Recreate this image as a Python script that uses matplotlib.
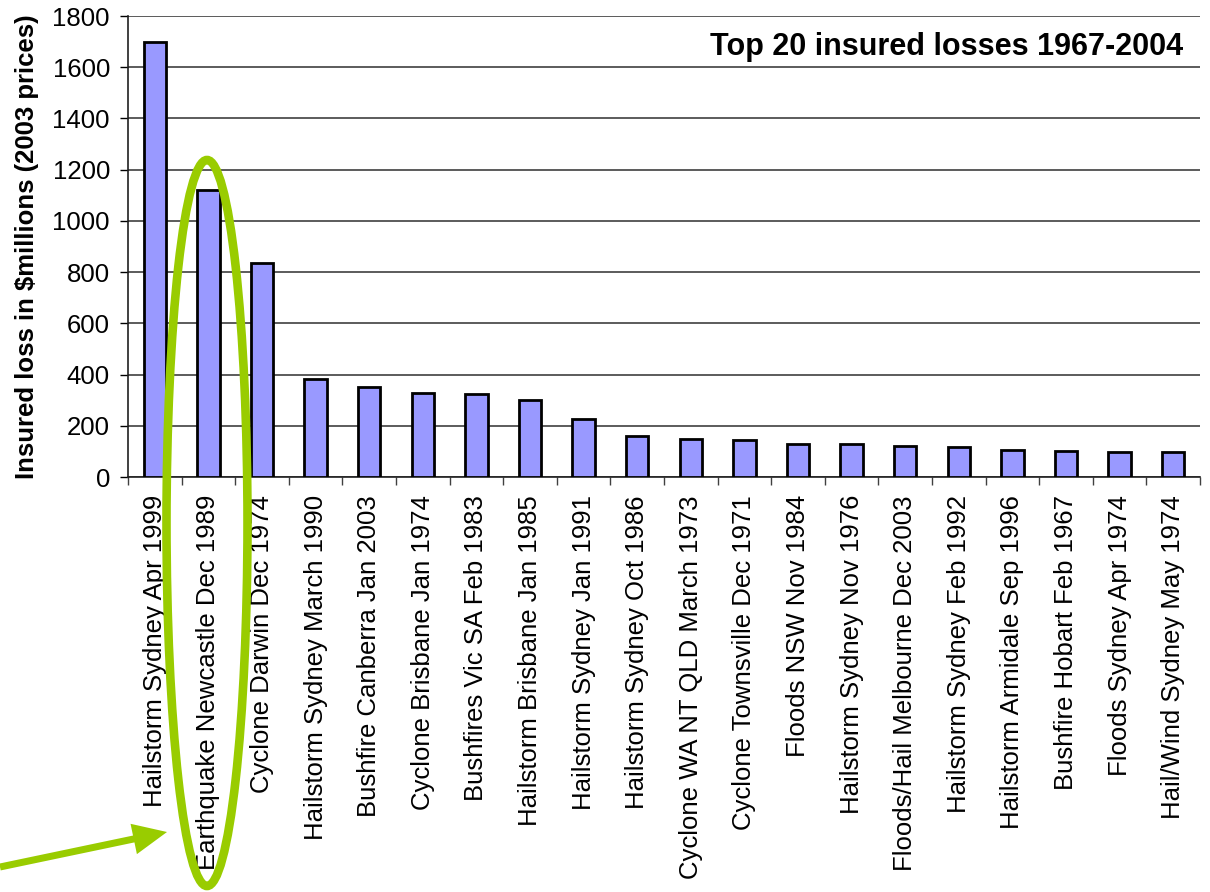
import matplotlib
matplotlib.use("Agg")
import matplotlib.pyplot as plt
from matplotlib.patches import Ellipse, FancyArrow

plt.rcParams['font.family'] = ['Liberation Sans', 'DejaVu Sans']

# Top 20 insured losses, $millions at 2003 prices
events = [
    "Hailstorm Sydney Apr 1999", "Earthquake Newcastle Dec 1989",
    "Cyclone Darwin Dec 1974", "Hailstorm Sydney March 1990",
    "Bushfire Canberra Jan 2003", "Cyclone Brisbane Jan 1974",
    "Bushfires Vic SA Feb 1983", "Hailstorm Brisbane Jan 1985",
    "Hailstorm Sydney Jan 1991", "Hailstorm Sydney Oct 1986",
    "Cyclone WA NT QLD March 1973", "Cyclone Townsville Dec 1971",
    "Floods NSW Nov 1984", "Hailstorm Sydney Nov 1976",
    "Floods/Hail Melbourne Dec 2003", "Hailstorm Sydney Feb 1992",
    "Hailstorm Armidale Sep 1996", "Bushfire Hobart Feb 1967",
    "Floods Sydney Apr 1974", "Hail/Wind Sydney May 1974",
]
losses = [1700, 1120, 837, 383, 350, 328, 324, 299, 225, 159,
          148, 146, 130, 129, 122, 116, 104, 100, 98, 96]
y_ticks = list(range(0, 1801, 200))

W, H = 1210, 892
fig = plt.figure(figsize=(W / 100, H / 100), dpi=100)
ax = fig.add_axes([128 / W, 1 - 477 / H, 1072 / W, 461 / H])

x = list(range(len(events)))
ax.bar(x, losses, width=0.42, color='#9999FF', edgecolor='black',
       linewidth=2.0, zorder=3)

ax.set_xlim(-0.5, len(events) - 0.5)
ax.set_ylim(0, 1800)
ax.set_yticks(y_ticks)
ax.set_yticklabels([str(v) for v in y_ticks], fontsize=18.5)
ax.set_xticks(x)
ax.set_xticklabels(events, rotation=90, fontsize=18.5, ha='center', va='top')
ax.set_xticks([i - 0.5 for i in range(len(events) + 1)], minor=True)
ax.tick_params(axis='x', which='major', length=0, pad=13)
ax.tick_params(axis='x', which='minor', length=6, width=1, color='#404040')
ax.tick_params(axis='y', length=6, width=1, pad=7)

ax.yaxis.grid(True, color='#404040', linewidth=1.2, zorder=0)
ax.set_axisbelow(True)
for side in ['top', 'right']:
    ax.spines[side].set_visible(False)
for side in ['left', 'bottom']:
    ax.spines[side].set_color('#202020')
    ax.spines[side].set_linewidth(1.2)

ax.set_ylabel('Insured loss in $millions (2003 prices)', fontsize=18.5,
              fontweight='bold')
ax.yaxis.set_label_coords(-0.083, 0.5)

fig.text(1183 / W, 1 - 55 / H, 'Top 20 insured losses 1967-2004',
         fontsize=22, fontweight='bold', ha='right', va='baseline')

# overlay in pixel coordinates for the highlight ellipse and arrow
ov = fig.add_axes([0, 0, 1, 1], zorder=10)
ov.set_xlim(0, W)
ov.set_ylim(H, 0)
ov.axis('off')
ov.patch.set_alpha(0)
green = '#99CC00'
ov.add_patch(Ellipse((207, 523), 81, 726, fill=False, edgecolor=green,
                     linewidth=6.2))
ov.add_patch(FancyArrow(0, 867, 167, -35, width=7, head_width=31,
                        head_length=34, length_includes_head=True,
                        color=green, linewidth=0))

fig.savefig('out.png', dpi=100)
